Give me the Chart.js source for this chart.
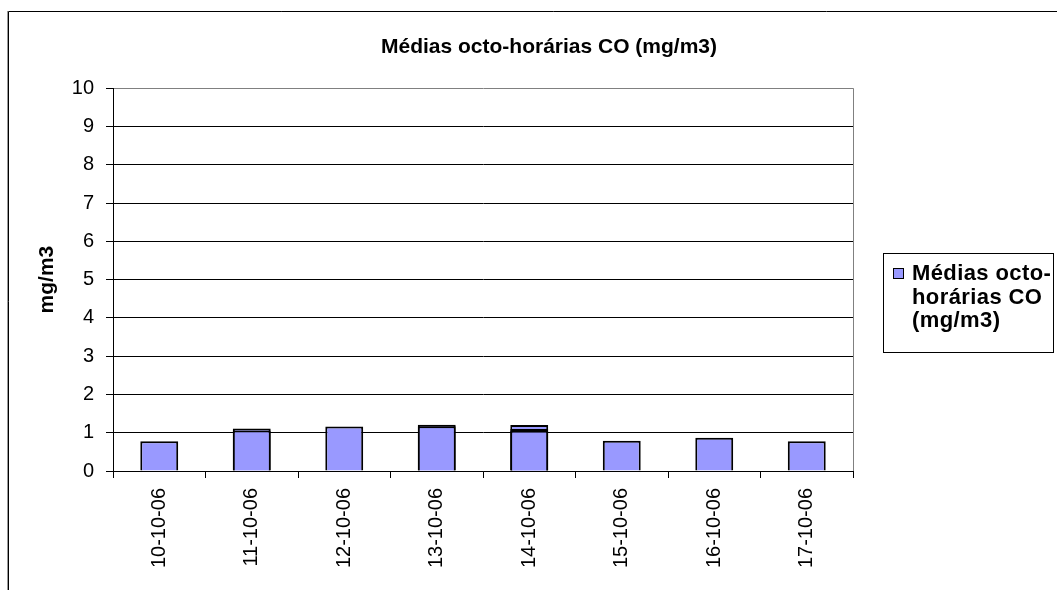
<!DOCTYPE html>
<html>
<head>
<meta charset="utf-8">
<script src="https://cdn.jsdelivr.net/npm/chart.js"></script>
<style>
  html, body { margin: 0; padding: 0; background: #fff; overflow: hidden; }
  #wrap { position: absolute; left: 0; top: 0; width: 1098px; height: 590px; }
</style>
</head>
<body>
<div id="wrap"><canvas id="myChart"></canvas></div>
<script>
// dias
const dias = ['10-10-06', '11-10-06', '12-10-06', '13-10-06', '14-10-06', '15-10-06', '16-10-06', '17-10-06'];
// barras sobrepostas (varias medias no mesmo dia)
const mediasMax = [0.78, 1.11, 1.16, 1.21, 1.20, 0.79, 0.87, 0.78];
const mediasMeio = [null, 1.06, null, 1.17, 1.10, null, null, null];
const mediasMin = [null, null, null, null, 1.05, null, null, null];
const yTicks = [0, 1, 2, 3, 4, 5, 6, 7, 8, 9, 10];

const titulo = 'Médias octo-horárias CO (mg/m3)';
const legendaLinhas = ['Médias octo-', 'horárias CO', '(mg/m3)'];
const corBarra = '#9999FF';
const fonte = '"Liberation Sans", Arial, sans-serif';

// moldura exterior + borda direita da area do grafico + legenda
const extras = {
  id: 'extras',
  beforeDraw(chart) {
    const c = chart.ctx;
    c.save();
    c.strokeStyle = '#999';
    c.lineWidth = 1;
    c.beginPath();
    c.moveTo(7.5, 11); c.lineTo(7.5, 600);
    c.stroke();
    c.strokeStyle = '#000';
    c.beginPath();
    c.moveTo(8.5, 600); c.lineTo(8.5, 11.5); c.lineTo(1200, 11.5);
    c.stroke();
    c.restore();
  },
  beforeDatasetsDraw(chart) {
    const a = chart.chartArea;
    const c = chart.ctx;
    c.save();
    c.strokeStyle = '#808080';
    c.lineWidth = 1;
    c.beginPath();
    c.moveTo(Math.round(a.right) + 0.5, a.top);
    c.lineTo(Math.round(a.right) + 0.5, a.bottom);
    c.stroke();
    c.restore();
  },
  afterDraw(chart) {
    const c = chart.ctx;
    const ds = chart.data.datasets[0];
    c.save();
    c.strokeStyle = '#000';
    c.lineWidth = 1;
    c.strokeRect(883.5, 253.5, 170, 99);
    c.fillStyle = ds.backgroundColor;
    c.fillRect(893, 268, 10, 10);
    c.strokeRect(893.5, 268.5, 10, 10);
    c.fillStyle = '#000';
    c.font = 'bold 22px ' + fonte;
    c.letterSpacing = '0.4px';
    c.textBaseline = 'alphabetic';
    legendaLinhas.forEach((t, i) => c.fillText(t, 912, 280 + i * 23.5));
    c.restore();
  }
};

const cty = document.getElementById('myChart');
const myChart = new Chart(cty, {
  type: 'bar',
  data: {
    labels: dias,
    datasets: [{
      label: titulo,
      data: mediasMax,
      backgroundColor: corBarra,
      borderColor: '#000',
      borderWidth: 2,
      grouped: false,
      order: 3
    }, {
      label: titulo,
      data: mediasMeio,
      backgroundColor: corBarra,
      borderColor: '#000',
      borderWidth: 2,
      grouped: false,
      order: 2
    }, {
      label: titulo,
      data: mediasMin,
      backgroundColor: corBarra,
      borderColor: '#000',
      borderWidth: 2,
      grouped: false,
      order: 1
    }]
  },
  options: {
    responsive: true,
    maintainAspectRatio: false,
    animation: false,
    barPercentage: 0.41,
    categoryPercentage: 1,
    layout: { padding: 0 },
    scales: {
      x: {
        offset: true,
        afterFit: (s) => { s.height = 119; },
        grid: { offset: true, drawOnChartArea: false, drawTicks: true, tickLength: 7, color: '#000' },
        border: { color: '#000', width: 1 },
        ticks: {
          minRotation: 90, maxRotation: 90, padding: 10, color: '#000',
          font: { family: fonte, size: 20 }
        }
      },
      y: {
        min: 0,
        max: 10,
        afterFit: (s) => { s.width = 113; },
        afterBuildTicks: (s) => { s.ticks = yTicks.map(v => ({ value: v })); },
        grid: {
          color: (ctx) => (ctx.tick && ctx.tick.value === 10 ? '#808080' : '#000'),
          tickColor: '#000',
          tickLength: 7
        },
        border: { color: '#000', width: 1 },
        ticks: { padding: 12, color: '#000', font: { family: fonte, size: 20 } },
        title: {
          display: true,
          text: 'mg/m3',
          color: '#000',
          padding: { top: 35, bottom: 0 },
          font: { family: fonte, size: 21, weight: 'bold' }
        }
      },
      yR: {
        position: 'right',
        afterFit: (s) => { s.width = 245; },
        ticks: { display: false },
        grid: { display: false },
        border: { display: false }
      }
    },
    plugins: {
      legend: { display: false },
      tooltip: { enabled: false },
      title: {
        display: true,
        text: titulo,
        color: '#000',
        padding: { top: 35, bottom: 28 },
        font: { family: fonte, size: 21, weight: 'bold' }
      }
    }
  },
  plugins: [extras]
});
</script>
</body>
</html>
